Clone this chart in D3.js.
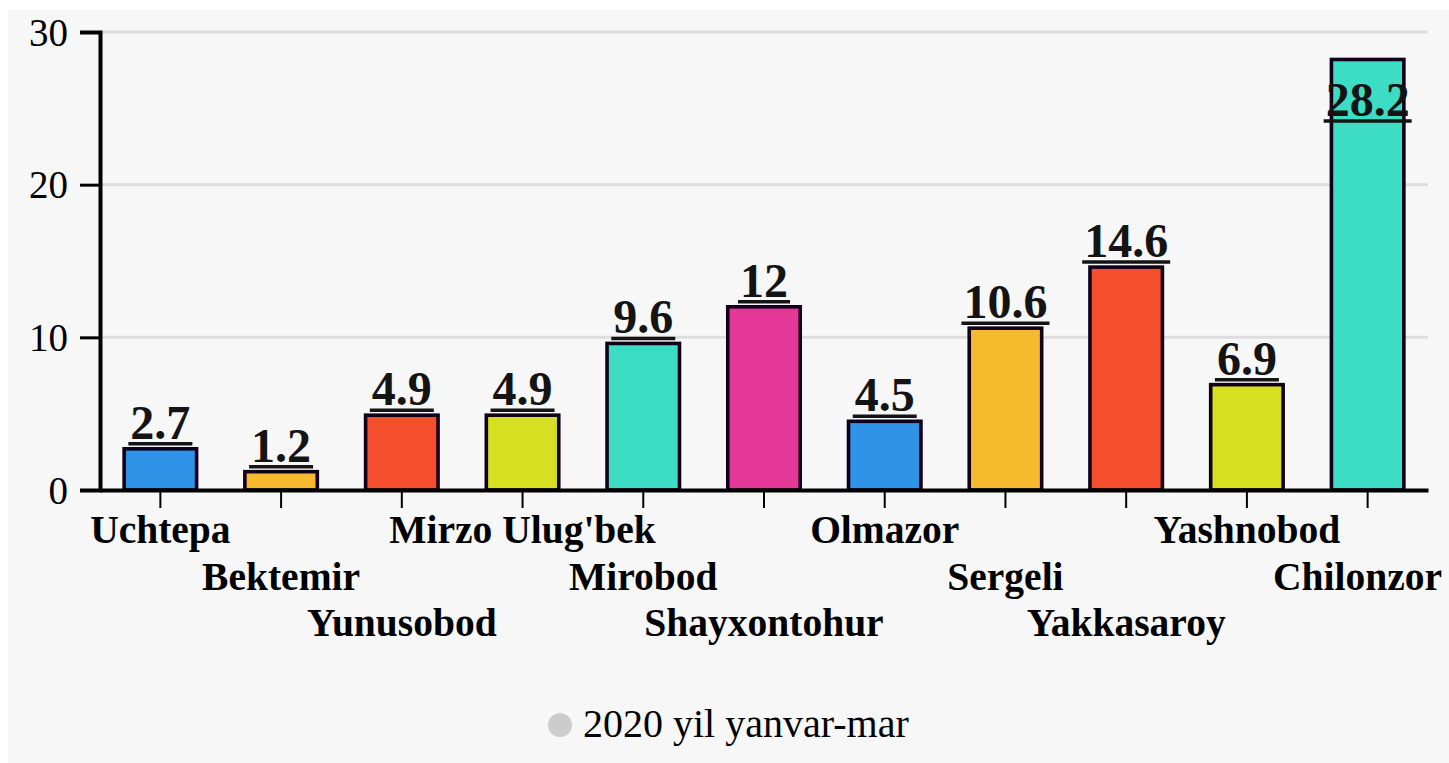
<!DOCTYPE html>
<html><head><meta charset="utf-8">
<script src="https://cdn.jsdelivr.net/npm/d3@7"></script>
<style>
html,body{margin:0;padding:0;background:#fff;}
svg{display:block;}
text{font-family:"Liberation Serif","Times New Roman",serif;}
</style></head>
<body>
<svg id="chart" width="1449" height="763"></svg>
<script>
const categories = ["Uchtepa","Bektemir","Yunusobod","Mirzo Ulug'bek","Mirobod","Shayxontohur","Olmazor","Sergeli","Yakkasaroy","Yashnobod","Chilonzor"];
const values = [2.7,1.2,4.9,4.9,9.6,12,4.5,10.6,14.6,6.9,28.2];
const colors = ["#2f93e8","#f7b92e","#f54e2c","#d6e021","#3ddcc4","#e43898","#2f93e8","#f7b92e","#f54e2c","#d6e021","#3ddcc4"];
const yTicks = [0,10,20,30];
const seriesName = "2020 yil yanvar-mar";

(function(){
const W = 1449, H = 763;
const svg = d3.select("#chart");
svg.append("rect").attr("x",8).attr("y",10).attr("width",W-8).attr("height",H-10).attr("fill","#f7f7f7");

const mL = 100, mR = 1428, mT = 32, mB = 490;
const x = d3.scaleBand().domain(categories).range([mL,mR]).paddingInner(0.4).paddingOuter(0.2);
const y = d3.scaleLinear().domain([0,30]).range([mB,mT]);

// grid
svg.append("g").selectAll("line").data(yTicks.filter(d=>d>0)).join("line")
  .attr("x1",mL).attr("x2",mR).attr("y1",d=>y(d)).attr("y2",d=>y(d))
  .attr("stroke","#dddddd").attr("stroke-width",3);

// bars
svg.append("g").selectAll("rect").data(values).join("rect")
  .attr("x",(d,i)=>x(categories[i])).attr("width",x.bandwidth())
  .attr("y",d=>y(d)).attr("height",d=>y(0)-y(d))
  .attr("fill",(d,i)=>colors[i]).attr("stroke","#10001a").attr("stroke-width",3.6);

// x axis
const xa = svg.append("g").attr("transform",`translate(0,${mB})`)
  .call(d3.axisBottom(x).tickSize(18).tickSizeOuter(0).tickFormat(""));
xa.select(".domain").attr("stroke","#000").attr("stroke-width",4);
xa.selectAll(".tick line").attr("stroke","#000").attr("stroke-width",2);

// y axis
const ya = svg.append("g").attr("transform",`translate(${mL},0)`)
  .call(d3.axisLeft(y).tickValues(yTicks).tickSize(20).tickPadding(12));
ya.select(".domain").attr("stroke","#000").attr("stroke-width",4);
ya.selectAll(".tick line").attr("stroke","#000").attr("stroke-width",3);
ya.selectAll(".tick text").attr("font-size",39).attr("fill","#000").attr("dy","0.34em");

// x labels staggered
const xl = svg.append("g").selectAll("text").data(categories).join("text")
  .attr("text-anchor","middle").attr("font-size",39.5).attr("font-weight","bold").attr("fill","#000")
  .attr("x",d=>x(d)+x.bandwidth()/2)
  .attr("y",(d,i)=>mB+53+(i%3)*46.5)
  .text(d=>d);
xl.each(function(){
  const bb=this.getBBox();
  const maxR = W-7;
  if (bb.x+bb.width>maxR){ d3.select(this).attr("x",+d3.select(this).attr("x")-(bb.x+bb.width-maxR)); }
});

// value labels with underline
const lg = svg.append("g");
values.forEach((v,i)=>{
  const cx = x(categories[i])+x.bandwidth()/2;
  const by = Math.max(y(v)-10, y(30)+84);
  const t = lg.append("text").attr("x",cx).attr("y",by).attr("text-anchor","middle")
    .attr("font-size",48).attr("font-weight","bold").attr("fill","#141414").text(v);
  const w = t.node().getComputedTextLength();
  lg.append("line").attr("x1",cx-w/2-2).attr("x2",cx+w/2+2).attr("y1",by+5).attr("y2",by+5)
    .attr("stroke","#141414").attr("stroke-width",3.5);
});

// legend
svg.append("circle").attr("cx",560).attr("cy",725).attr("r",12).attr("fill","#cccccc");
svg.append("text").attr("x",583).attr("y",737).attr("font-size",40).attr("fill","#000").text(seriesName);
})();
</script>
</body></html>
